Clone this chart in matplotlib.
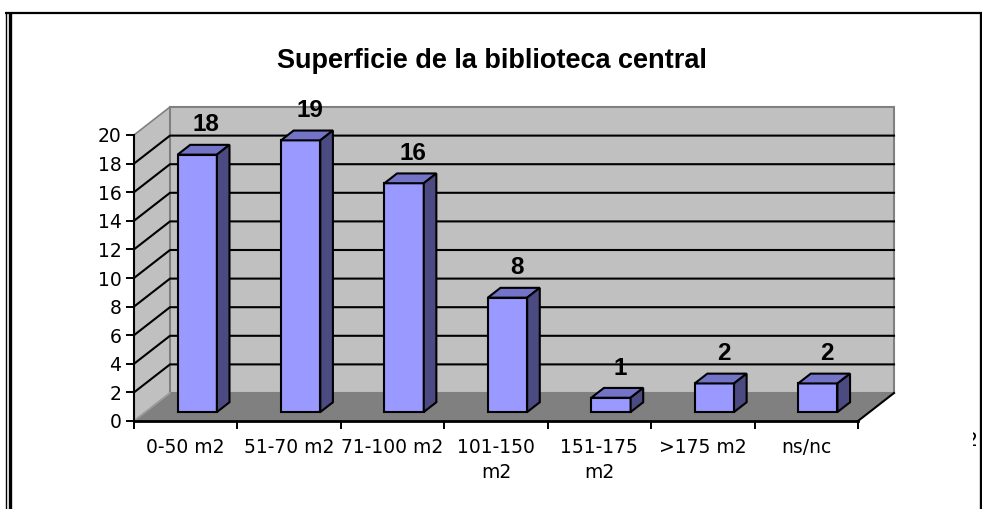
"""
Superficie de la biblioteca central - pseudo 3D column chart.
"""

import matplotlib

matplotlib.use("Agg")
import matplotlib.pyplot as plt
from matplotlib.lines import Line2D
from matplotlib.patches import Polygon, Rectangle

# data
categories = ["0-50 m2", "51-70 m2", "71-100 m2", "101-150\nm2", "151-175\nm2", ">175 m2", "ns/nc"]
values = [18, 19, 16, 8, 1, 2, 2]
y_ticks = list(range(0, 21, 2))

W, H = 982, 509
fig = plt.figure(figsize=(W / 100, H / 100), dpi=100)

# pixel geometry of the front plane
px_cat = 724 / 7
px_val = 286 / 20
DX = 36 / px_cat  # depth offset in category units
DY = 28 / px_val  # depth offset in value units
x_max, y_max = 7.5, 22.4
ax = fig.add_axes([134 / W, (H - 421) / H, x_max * px_cat / W, y_max * px_val / H])
ax.set_xlim(0, x_max)
ax.set_ylim(0, y_max)
n = len(categories)

wall = "#c0c0c0"
edge_gray = "#808080"

# left wall and back wall
ax.add_patch(Polygon([(0, 0), (DX, DY), (DX, 20 + DY), (0, 20)], closed=True,
                     fc=wall, ec=edge_gray, lw=1.2, zorder=1))
ax.add_patch(Polygon([(DX, DY), (n + DX, DY), (n + DX, 20 + DY), (DX, 20 + DY)], closed=True,
                     fc=wall, ec=edge_gray, lw=1.5, zorder=1))
# floor
ax.add_patch(Polygon([(0, 0), (n, 0), (n + DX, DY), (DX, DY)], closed=True,
                     fc=edge_gray, ec="none", zorder=2))
ax.plot([n, n + DX], [0, DY], color="black", lw=1.5, zorder=2)
ax.plot([0, DX], [0, DY], color="#a0a0a0", lw=1.0, zorder=2)

# gridlines on the walls
for v in y_ticks[1:-1]:
    ax.plot([0, DX, n + DX], [v, v + DY, v + DY], color="black", lw=1.5, zorder=2)

# bars
f1, f2 = 0.32, 0.67
hw = 0.19
b = f1 * DY
ddx, ddy = (f2 - f1) * DX, (f2 - f1) * DY
centres = [k + 0.5 for k in range(n)]
ax.bar([c + f1 * DX for c in centres], values, width=2 * hw, bottom=b,
       color="#9999ff", edgecolor="black", linewidth=1.5, zorder=4)
for c, v in zip(centres, values):
    xl = c - hw + f1 * DX
    xr = c + hw + f1 * DX
    ax.add_patch(Polygon([(xl, v + b), (xr, v + b), (xr + ddx, v + b + ddy), (xl + ddx, v + b + ddy)],
                         closed=True, fc="#7373c8", ec="black", lw=1.5, zorder=4))
    ax.add_patch(Polygon([(xr, b), (xr + ddx, b + ddy), (xr + ddx, v + b + ddy), (xr, v + b)],
                         closed=True, fc="#4b4b82", ec="black", lw=1.5, zorder=4))
    ax.text(c + 0.2, v + 2.7, str(v), ha="center", va="center", fontsize=17.5,
            fontweight="bold", family="Liberation Sans", zorder=5)

# axes
for s in ["top", "right"]:
    ax.spines[s].set_visible(False)
ax.spines["left"].set_bounds(0, 20)
ax.spines["bottom"].set_bounds(0, n)
ax.spines["left"].set_linewidth(1.5)
ax.spines["bottom"].set_linewidth(2)
ax.spines["left"].set_zorder(6)
ax.spines["bottom"].set_zorder(6)
ax.set_yticks(y_ticks)
ax.set_yticklabels([str(t) for t in y_ticks])
ax.tick_params(axis="y", direction="out", length=6, width=1.4, pad=3, labelsize=13.5)
ax.set_xticks(range(n + 1))
ax.set_xticklabels([""] * (n + 1))
ax.set_xticks(centres, minor=True)
ax.set_xticklabels(categories, minor=True)
ax.tick_params(axis="x", which="major", direction="out", length=6, width=1.4)
ax.tick_params(axis="x", which="minor", length=0, pad=12, labelsize=13.5)
for lab in ax.get_xticklabels(minor=True):
    lab.set_linespacing(1.4)

# title
fig.text(492 / W, 1 - 61 / H, "Superficie de la biblioteca central", ha="center", va="center",
         fontsize=19.5, fontweight="bold", family="Liberation Sans")

# clipped fragment at the right edge
fig.text(966 / W, 1 - 440 / H, "2", ha="left", va="center", fontsize=13.5)
fig.add_artist(Rectangle((955 / W, 1 - 455 / H), 18 / W, 30 / H, transform=fig.transFigure,
                         fc="white", ec="none", zorder=4))


# outer border
def fig_line(x0, y0, x1, y1, lw):
    fig.add_artist(Line2D([x0 / W, x1 / W], [1 - y0 / H, 1 - y1 / H],
                          transform=fig.transFigure, color="black", lw=lw, zorder=5,
                          solid_capstyle="butt"))


fig_line(5, 13, W, 13, 1.6)
fig_line(5.5, 13, 5.5, H, 1.0)
fig_line(9.5, 13, 9.5, H, 2.4)
fig_line(980.5, 13, 980.5, H, 2.4)

fig.savefig("out.png", dpi=100)
